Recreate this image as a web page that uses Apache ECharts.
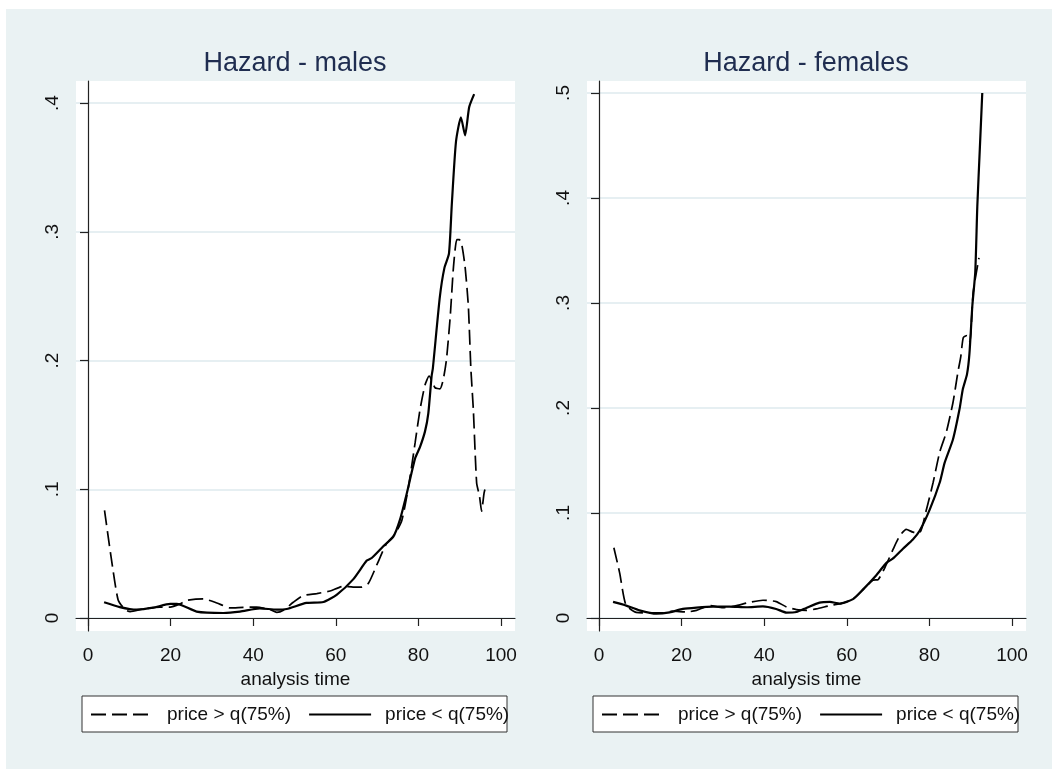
<!DOCTYPE html>
<html>
<head>
<meta charset="utf-8">
<script src="https://cdn.jsdelivr.net/npm/echarts@6/dist/echarts.min.js"></script>
<style>
  html, body { margin: 0; padding: 0; background: #fff; }
  #main {
    width: 1052px; height: 769px;
    background: #eaf2f3;
    box-shadow: inset 6px 9px 0 #fff;
  }
</style>
</head>
<body>
<div id="main"></div>
<script>
// hazard estimates: [analysis time, hazard]
const malesAbove = [
  [4.0, 0.0837], [5.7, 0.045], [7.3, 0.014], [9.0, 0.0065], [10.2, 0.005], [13.4, 0.007],
  [17.4, 0.0085], [19.9, 0.0085], [22.3, 0.011], [23.9, 0.0137], [27.9, 0.0148], [31.2, 0.0117],
  [34.4, 0.0078], [37.6, 0.0083], [40.8, 0.0085], [44.1, 0.0065], [45.7, 0.0044], [47.3, 0.006],
  [49.7, 0.0122], [52.1, 0.0174], [55.4, 0.019], [58.6, 0.021], [61.8, 0.0246], [64.2, 0.024],
  [66.3, 0.024], [67.9, 0.027], [69.9, 0.041], [72.3, 0.058], [74.3, 0.065], [76.0, 0.076],
  [77.6, 0.102], [79.2, 0.136], [80.4, 0.162], [81.6, 0.181], [82.6, 0.188], [84.0, 0.179],
  [85.2, 0.178], [86.0, 0.185], [86.8, 0.201], [87.7, 0.234], [88.5, 0.273], [89.3, 0.294],
  [89.9, 0.294], [90.5, 0.290], [91.3, 0.273], [92.1, 0.242], [92.7, 0.194], [93.3, 0.162],
  [94.1, 0.105], [94.8, 0.0946], [95.3, 0.083], [95.9, 0.097], [96.4, 0.1036]
]
const malesBelow = [
  [3.9, 0.0122], [7.7, 0.0085], [11.8, 0.0065], [15.8, 0.008], [19.9, 0.011], [21.5, 0.011],
  [26.3, 0.005], [32.8, 0.0039], [36.8, 0.005], [41.6, 0.0075], [45.7, 0.0065], [48.1, 0.007],
  [52.9, 0.0117], [57.0, 0.0124], [60.2, 0.018], [64.2, 0.030], [67.5, 0.0446], [68.7, 0.0466],
  [71.5, 0.0557], [73.9, 0.063], [75.5, 0.076], [77.2, 0.097], [79.2, 0.124], [80.4, 0.133],
  [81.6, 0.145], [82.4, 0.159], [83.2, 0.188], [83.5, 0.194], [85.2, 0.2496], [86.3, 0.272],
  [87.4, 0.283], [88.1, 0.322], [89.1, 0.37], [90.3, 0.389], [91.3, 0.375], [92.3, 0.397],
  [93.5, 0.407]
]
const femalesAbove = [
  [3.6, 0.0669], [5.0, 0.043], [6.5, 0.0127], [9.0, 0.0054], [12.3, 0.0048], [15.5, 0.0048],
  [17.9, 0.0064], [21.1, 0.0057], [23.6, 0.0073], [26.8, 0.0118], [30.0, 0.0099], [33.3, 0.0118],
  [36.5, 0.015], [39.7, 0.0169], [42.9, 0.0156], [45.4, 0.0105], [47.8, 0.008], [50.2, 0.0073],
  [52.6, 0.0086], [55.9, 0.0118], [59.1, 0.0143], [61.5, 0.018], [63.9, 0.027], [66.3, 0.036],
  [67.6, 0.0366], [69.2, 0.0478], [71.2, 0.0653], [72.8, 0.078], [74.4, 0.0844], [76.0, 0.0818],
  [77.6, 0.0812], [79.3, 0.1035], [80.9, 0.129], [82.5, 0.158], [84.1, 0.177], [85.7, 0.205],
  [86.9, 0.234], [87.6, 0.249], [88.2, 0.267], [89.1, 0.269], [89.8, 0.263], [90.6, 0.31],
  [92.0, 0.343]
]
const femalesBelow = [
  [3.4, 0.0153], [6.6, 0.0118], [9.8, 0.0073], [13.9, 0.0041], [17.1, 0.0054], [20.3, 0.0086],
  [23.6, 0.0099], [27.6, 0.0108], [31.6, 0.0108], [35.7, 0.0102], [39.7, 0.011], [42.9, 0.0086],
  [45.4, 0.0051], [47.8, 0.0057], [50.2, 0.0096], [53.4, 0.0146], [55.9, 0.0153], [58.3, 0.0137],
  [61.5, 0.018], [63.9, 0.027], [67.2, 0.041], [69.6, 0.0525], [71.2, 0.0567], [73.6, 0.066],
  [76.0, 0.0748], [77.6, 0.0828], [80.1, 0.1035], [82.5, 0.129], [83.7, 0.148], [85.7, 0.170],
  [87.3, 0.199], [88.1, 0.218], [89.1, 0.232], [89.7, 0.252], [90.4, 0.2975], [91.1, 0.329],
  [91.6, 0.392], [92.2, 0.446], [92.8, 0.500]
]

const seriesNames = ["price > q(75%)", "price < q(75%)"]
const panelTitles = ["Hazard - males", "Hazard - females"]
const xTicks = [0, 20, 40, 60, 80, 100]
const yTicksMales = [0, 0.1, 0.2, 0.3, 0.4]
const yTicksFemales = [0, 0.1, 0.2, 0.3, 0.4, 0.5]

const FONT = "Liberation Sans, Arial, sans-serif"
const dash = [15, 6]

const fmtY = v => (v === 0 ? "0" : String(+v.toFixed(1)).replace(/^0\./, "."))

const xAxisFor = idx => ({
  type: "value",
  gridIndex: idx,
  min: -2.905,
  max: 103.39,
  name: "analysis time",
  nameLocation: "middle",
  nameGap: 34,
  nameTextStyle: { fontSize: 19, color: "#111", fontFamily: FONT },
  axisLine: { lineStyle: { color: "#222", width: 1.2 } },
  axisTick: { length: 8, customValues: xTicks, lineStyle: { color: "#222", width: 1.2 } },
  axisLabel: { customValues: xTicks, fontSize: 19, color: "#111", margin: 15, fontFamily: FONT },
  splitLine: { show: false },
})

const yAxisFor = (idx, ticks, min, max) => ({
  type: "value",
  gridIndex: idx,
  min: min,
  max: max,
  axisLine: { show: true, lineStyle: { color: "#222", width: 1.2 } },
  axisTick: { show: true, length: 8, customValues: ticks, lineStyle: { color: "#222", width: 1.2 } },
  axisLabel: {
    customValues: ticks, rotate: 90, fontSize: 19, color: "#111", margin: 14,
    fontFamily: FONT, formatter: fmtY,
  },
  splitLine: { show: true, lineStyle: { color: "#e6eff2", width: 2 } },
})

const lineSeries = (name, data, idx, dashed) => ({
  name: name,
  type: "line",
  xAxisIndex: idx,
  yAxisIndex: idx,
  data: data,
  showSymbol: false,
  symbol: "none",
  smooth: 0.2,
  lineStyle: { color: "#000", width: dashed ? 1.7 : 2.2, type: dashed ? dash : "solid" },
  itemStyle: { color: "#000" },
})

const legendFor = left => ({
  left: left,
  top: 705,
  padding: 0,
  itemWidth: 62,
  itemHeight: 14,
  itemGap: 17,
  data: seriesNames,
  selectedMode: false,
  itemStyle: { opacity: 0 },
  textStyle: { fontSize: 19, color: "#111", fontFamily: FONT, padding: [0, 0, 0, 9] },
})

const chart = echarts.init(document.getElementById("main"))

const option = {
  animation: false,
  backgroundColor: "transparent",
  title: [
    { text: panelTitles[0], left: 295, top: 50, textAlign: "center", padding: 0,
      textStyle: { fontSize: 27, fontWeight: "normal", color: "#1f2d50", fontFamily: FONT } },
    { text: panelTitles[1], left: 806, top: 50, textAlign: "center", padding: 0,
      textStyle: { fontSize: 27, fontWeight: "normal", color: "#1f2d50", fontFamily: FONT } },
  ],
  grid: [
    { left: 76, top: 81, width: 439, height: 550, show: true, backgroundColor: "#fff", borderWidth: 0 },
    { left: 587, top: 81, width: 439, height: 550, show: true, backgroundColor: "#fff", borderWidth: 0 },
  ],
  xAxis: [xAxisFor(0), xAxisFor(1)],
  yAxis: [
    yAxisFor(0, yTicksMales, -0.0101, 0.4172),
    yAxisFor(1, yTicksFemales, -0.0124, 0.5114),
  ],
  legend: [legendFor(90), legendFor(601)],
  graphic: [
    { type: "rect", z: 1, shape: { x: 82, y: 696, width: 425, height: 36 },
      style: { fill: "#fff", stroke: "#333", lineWidth: 1 } },
    { type: "rect", z: 1, shape: { x: 593, y: 696, width: 425, height: 36 },
      style: { fill: "#fff", stroke: "#333", lineWidth: 1 } },
  ],
  series: [
    lineSeries(seriesNames[0], malesAbove, 0, true),
    lineSeries(seriesNames[1], malesBelow, 0, false),
    lineSeries(seriesNames[0], femalesAbove, 1, true),
    lineSeries(seriesNames[1], femalesBelow, 1, false),
  ],
}

option && chart.setOption(option)
</script>
</body>
</html>
